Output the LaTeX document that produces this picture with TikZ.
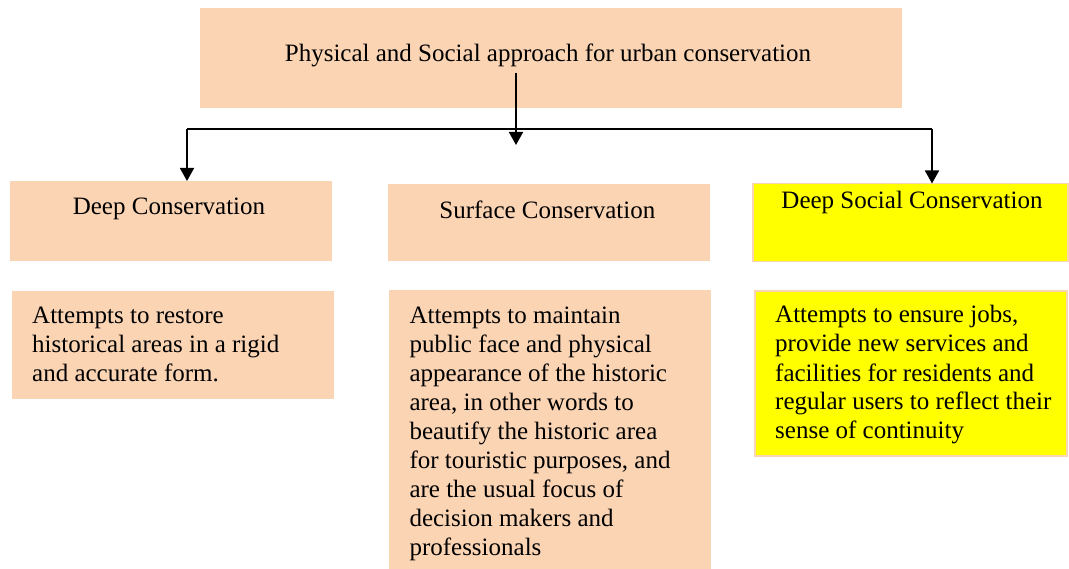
\documentclass[tikz,border=0pt]{standalone}
\usepackage{fontspec}
\setmainfont{Liberation Serif}
\usetikzlibrary{arrows.meta}
\definecolor{peach}{HTML}{FBD4B4}
\definecolor{yel}{HTML}{FFFF00}
\begin{document}
\begin{tikzpicture}[x=1pt,y=-1pt,
  boxfill/.style={anchor=north west,inner sep=0pt,outer sep=0pt,fill=peach,draw=none},
  yelbox/.style={anchor=north west,inner sep=0pt,outer sep=0pt,fill=yel,draw=peach,line width=1.5pt},
  label/.style={inner sep=0pt,font=\fontsize{25}{29}\selectfont},
  body/.style={anchor=north west,inner sep=0pt,align=left,font=\fontsize{25}{29}\selectfont},
  conn/.style={line width=1.8pt,line join=miter},
  tip/.style={-{Triangle[width=14pt,length=13pt]}}
]
\useasboundingbox (0,0) rectangle (1069,569);
% boxes
\node[boxfill,minimum width=702pt,minimum height=100pt] (top) at (200,8) {};
\node[boxfill,minimum width=322pt,minimum height=80pt] (dc) at (10,181) {};
\node[boxfill,minimum width=322pt,minimum height=77pt] (sc) at (388,184) {};
\node[yelbox,minimum width=315pt,minimum height=78pt] (dsc) at (753,183.5) {};
\node[boxfill,minimum width=322pt,minimum height=108pt] (db) at (12,291) {};
\node[boxfill,minimum width=322pt,minimum height=280pt] (sb) at (389,290) {};
\node[yelbox,minimum width=312pt,minimum height=165pt] (dsb) at (755,291) {};
% titles
\node[label,anchor=base] (t0) at (548,61.7) {Physical and Social approach for urban conservation};
\node[label,anchor=base] (t1) at (169,215) {Deep Conservation};
\node[label,anchor=base] (t2) at (547.3,218.3) {Surface Conservation};
\node[label,anchor=base] (t3) at (912,208.3) {Deep Social Conservation};
% bodies
\node[body] (b1) at (32,302.7) {\strut Attempts to restore\\historical areas in a rigid\\and accurate form.};
\node[body] (b2) at (409.3,302.7) {\strut Attempts to maintain\\public face and physical\\appearance of the historic\\area, in other words to\\beautify the historic area\\for touristic purposes, and\\are the usual focus of\\decision makers and\\professionals};
\node[body] (b3) at (775,302.5) {\strut Attempts to ensure jobs,\\provide new services and\\facilities for residents and\\regular users to reflect their\\sense of continuity};
% connectors
\coordinate (c0) at (516,73);
\coordinate (c1) at (516,145);
\coordinate (hl) at (187,129);
\coordinate (hr) at (932,129);
\draw[conn,tip] (c0) -- (c1);
\draw[conn] (hl) -- (hr);
\draw[conn,tip] (hl) -- (hl |- dc.north);
\draw[conn,tip] (hr) -- (hr |- dsc.north);
\end{tikzpicture}
\end{document}
